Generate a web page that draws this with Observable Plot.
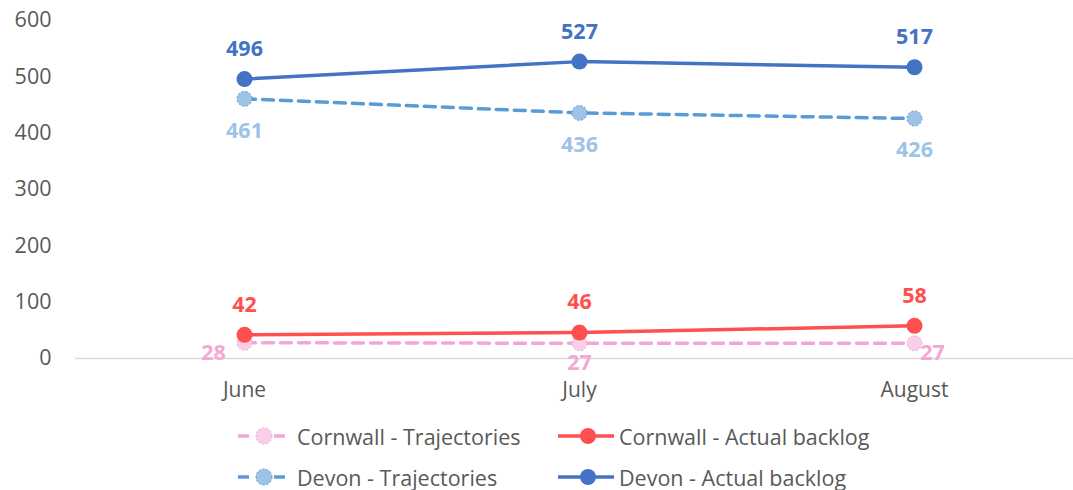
<!DOCTYPE html>
<html><head><meta charset="utf-8">
<script src="https://cdn.jsdelivr.net/npm/d3@7"></script>
<script src="https://cdn.jsdelivr.net/npm/@observablehq/plot@0.6"></script>
<style>
body{margin:0;background:#fff;font-family:"Open Sans",Lato,sans-serif;}
#legend{position:relative;height:80px;}
.li{position:absolute;display:flex;align-items:center;font-size:21.5px;color:#595959;white-space:nowrap;}
</style></head><body>
<div id="chart"></div>
<div id="legend"></div>
<script>
const months = ["June","July","August"];
const cornwallTraj = [28,27,27];
const cornwallActual = [42,46,58];
const devonTraj = [461,436,426];
const devonActual = [496,527,517];
const seriesNames = ["Cornwall - Trajectories","Cornwall - Actual backlog","Devon - Trajectories","Devon - Actual backlog"];
const yTicks = [0,100,200,300,400,500,600];

const mk = (vals, s) => months.map((m,i)=>({month:m, value:vals[i], series:s}));
const cT = mk(cornwallTraj, seriesNames[0]);
const cA = mk(cornwallActual, seriesNames[1]);
const dT = mk(devonTraj, seriesNames[2]);
const dA = mk(devonActual, seriesNames[3]);

const C = {cT:"#F4A7D6", cTfill:"#F8CFE7", cA:"#FF4F4F", dT:"#5B9BD5", dTfill:"#9DC3E6", dTlab:"#9DC3E6", dA:"#4472C4"};
const FF = "'Open Sans', Lato, sans-serif";
const labFont = {fontSize:21.5, fontWeight:"bold", fontFamily:FF};

const plot = Plot.plot({
  width:1073, height:410,
  marginLeft:75, marginRight:0, marginTop:20, marginBottom:52,
  style:{fontFamily:FF, fontSize:"21px", color:"#595959", background:"#fff"},
  x:{type:"point", domain:months, padding:0.5, range:[76,1081], label:null},
  y:{domain:[0,600], ticks:yTicks, label:null},
  marks:[
    Plot.ruleY([0],{stroke:"#d9d9d9", strokeWidth:1.5}),
    Plot.axisY({ticks:yTicks, tickSize:0, tickPadding:24, fontSize:21.5, fill:"#595959"}),
    Plot.axisX({tickSize:0, tickPadding:24, fontSize:21, fill:"#595959"}),
    Plot.line(cT,{x:"month",y:"value",stroke:C.cT,strokeWidth:3.5,strokeDasharray:"11,7"}),
    Plot.dot(cT,{x:"month",y:"value",r:7.5,fill:C.cTfill,stroke:C.cT,strokeWidth:1,strokeDasharray:"2,2"}),
    Plot.line(cA,{x:"month",y:"value",stroke:C.cA,strokeWidth:3.5}),
    Plot.dot(cA,{x:"month",y:"value",r:8,fill:C.cA}),
    Plot.line(dT,{x:"month",y:"value",stroke:C.dT,strokeWidth:3.5,strokeDasharray:"11,7"}),
    Plot.dot(dT,{x:"month",y:"value",r:7.5,fill:C.dTfill,stroke:C.dT,strokeWidth:1,strokeDasharray:"2,2"}),
    Plot.line(dA,{x:"month",y:"value",stroke:C.dA,strokeWidth:3.5}),
    Plot.dot(dA,{x:"month",y:"value",r:8,fill:C.dA}),
    Plot.text(dA,{x:"month",y:"value",text:"value",dy:-30,fill:C.dA,...labFont}),
    Plot.text(dT,{x:"month",y:"value",text:"value",dy:32,fill:C.dTlab,...labFont}),
    Plot.text(cA,{x:"month",y:"value",text:"value",dy:-30,fill:C.cA,...labFont}),
    Plot.text(cT.filter(d=>d.month==="June"),{x:"month",y:"value",text:"value",dx:-31,dy:10,fill:C.cT,...labFont}),
    Plot.text(cT.filter(d=>d.month==="July"),{x:"month",y:"value",text:"value",dy:20,fill:C.cT,...labFont}),
    Plot.text(cT.filter(d=>d.month==="August"),{x:"month",y:"value",text:"value",dx:18,dy:10,fill:C.cT,...labFont})
  ]
});
document.getElementById("chart").appendChild(plot);

// legend
const leg = document.getElementById("legend");
const items = [
  {name:seriesNames[0], stroke:C.cT, fill:C.cTfill, dash:true, x:235, y:26},
  {name:seriesNames[1], stroke:C.cA, fill:C.cA, dash:false, x:557, y:26},
  {name:seriesNames[2], stroke:C.dT, fill:C.dTfill, dash:true, x:235, y:67},
  {name:seriesNames[3], stroke:C.dA, fill:C.dA, dash:false, x:557, y:67}
];
items.forEach(it=>{
  const d = document.createElement("div");
  d.className="li"; d.style.left=it.x+"px"; d.style.top=(it.y-16)+"px"; d.style.height="32px";
  const sw = it.dash
    ? `<svg width="58" height="20" style="display:block"><line x1="1" y1="10" x2="56" y2="10" stroke="${it.stroke}" stroke-width="3.5" stroke-dasharray="11,7" stroke-dashoffset="-2"/><circle cx="29" cy="10" r="8" fill="${it.fill}" stroke="${it.stroke}" stroke-width="1" stroke-dasharray="2,2"/></svg>`
    : `<svg width="58" height="20" style="display:block"><line x1="1" y1="10" x2="57" y2="10" stroke="${it.stroke}" stroke-width="3.5"/><circle cx="31" cy="10" r="8" fill="${it.fill}"/></svg>`;
  d.innerHTML = sw + `<span style="margin-left:4px">${it.name}</span>`;
  leg.appendChild(d);
});
</script>
</body></html>
